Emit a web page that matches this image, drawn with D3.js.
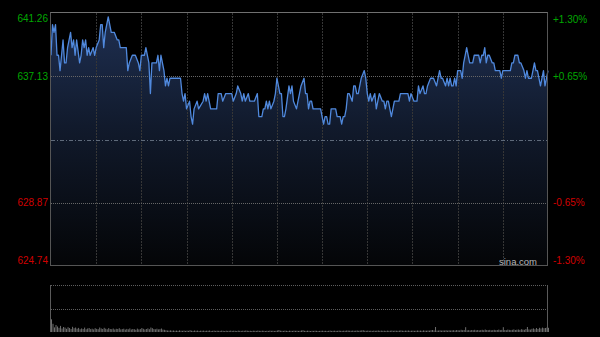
<!DOCTYPE html>
<html><head><meta charset="utf-8">
<script src="https://cdn.jsdelivr.net/npm/d3@7"></script>
<style>html,body{margin:0;padding:0;background:#000;overflow:hidden}</style>
</head><body>
<svg id="c" width="600" height="337"></svg>
<script>
// minute index within the trading day (0 = 09:30, 150 = 12:00/13:00, 330 = 16:00)
const minutes = [0,1,2,3,4,5,6,8,9,10,11,13,14,15,16,17,19,20,21,22,23,24,25,26,28,29,30,32,33,34,35,36,38,40,41,42,44,45,46,47,48,50,51,52,54,56,58,59,60,62,63,64,65,66,67,69,70,71,72,73,75,76,77,78,79,81,83,84,86,87,88,89,90,92,93,94,95,97,98,
101,102,103,104,106,110,111,113,114,116,120,121,123,124,126,127,128,129,131,132,135,137,138,140,141,142,143,144,145,146,148,149,150,152,153,154,155,156,158,159,160,161,163,164,165,166,168,169,170,171,172,173,174,179,180,181,182,183,184,185,186,189,190,192,193,194,195,196,197,198,200,201,202,203,204,205,206,208,209,210,211,212,213,215,216,217,218,220,221,222,223,224,225,226,227,228,231,232,
234,237,238,239,241,243,244,245,247,248,249,250,252,254,256,257,258,259,260,262,263,264,265,266,267,268,269,270,272,273,274,275,276,277,278,280,281,284,285,286,287,288,289,290,291,293,294,295,298,299,300,305,306,307,308,310,311,312,314,315,316,317,319,320,321,322,323,325,326,327,328,330];
const prices = [638.5,640.5,640,640.5,638.5,638.5,637.5,639.5,638,638,639,640,639,639.5,638.5,639.5,638,638.5,639.5,639,639.5,638.5,639,638.5,639,638.5,639,639.5,640.5,640.5,639,640,641,640,640,640,639.5,639.5,639,639,639,639,637.5,638,638.5,638.5,638,637.5,638.5,638.5,639,638.5,638,636,638,638,638,638.5,637.5,638.5,637.5,636.5,637,636.5,637,637,637,637,637,636,635.5,636,635,635.5,634.5,634,635,635.5,635,
635.5,636,635.5,636,635,635,636,636,635.5,636,636,635.5,636,636.5,636,635.5,636,635.5,636,635.5,635.5,636,634.5,634.5,635,635,635.5,635,635.5,635,635.5,636,637,636,636,634.5,634.5,635,636.5,636,636.5,635.5,635,635.5,636,636.5,637,636,636,635,635.5,635.5,635,635,634.5,634,634.5,634.5,634,634,635,635,634.5,634.5,634,634.5,634.5,635,636,636,635.5,636.5,636.5,636,636,636.5,637,637.5,637,636,635.5,636,635.5,636,635,635.5,636,635.5,635.5,635,635.5,635.5,635,634.5,635,635.5,635.5,636,
636,636,635.5,636,635.5,635.5,636.5,636,636.5,636,636,636.5,637,637,636.5,637,637.5,637,637,636.5,637,636.5,637,636.5,636.5,637,636.5,637.5,637.5,637,638,638.5,639,638.5,638,638,638.5,638.5,638,638.5,638.5,639,638,638.5,638.5,638,638,637.5,637.5,637,637.5,637.5,638,638,638.5,638.5,638,638,637.5,637,637.5,637,637,637.5,638,637.5,637.5,636.5,637,637.5,636.5,637.5];
// per-minute volume (arbitrary units)
const volumes = [127,82,46,70,55,42,61,35,50,44,32,48,40,30,52,38,45,33,41,28,
36,30,44,27,35,40,29,33,26,38,31,28,45,36,30,42,33,27,39,30,
28,35,25,32,30,38,26,29,33,24,31,27,36,25,30,28,22,34,26,29,
40,32,25,30,36,28,45,38,30,27,33,26,29,35,24,22,18,15,14,16,
13,15,12,14,11,16,13,12,15,11,14,12,18,13,11,15,12,14,10,13,
12,14,11,13,12,15,10,12,14,11,13,12,11,14,12,10,13,11,12,14,
11,13,12,10,14,12,11,13,12,15,13,11,12,10,13,12,11,14,12,11,
13,12,10,12,11,14,12,13,11,12,15,20,13,12,11,14,12,10,13,12,
11,14,12,13,11,12,15,18,12,11,13,12,10,12,11,13,12,10,11,12,
13,11,12,10,12,14,11,12,13,11,12,14,12,11,13,12,15,14,13,12,
14,12,13,15,12,14,16,18,13,12,14,12,13,11,14,12,13,15,12,14,
12,13,11,14,12,13,15,12,14,13,12,14,16,13,12,14,13,15,12,13,
14,12,13,15,13,14,12,16,14,13,15,14,18,20,16,50,14,15,17,14,
16,15,18,14,17,15,16,18,15,20,17,16,22,18,20,48,17,19,16,20,
18,22,17,20,16,19,22,18,25,20,18,21,17,19,22,18,20,24,19,21,
48,20,18,24,21,19,22,26,20,23,25,21,28,24,22,30,50,26,24,32,
36,28,40,30,42,35,44,38,40,45,42];
const priceLabels = ["641.26","637.13","628.87","624.74"];
const priceLabelValues = [641.26,637.13,628.87,624.74];
const pctLabels = ["+1.30%","+0.65%","-0.65%","-1.30%"];
const prevClose = 633.00;
const gridMinutes = [30,60,90,120,150,180,210,240,270,300];
const volMax = 470;

const svg = d3.select("#c");
const L = 51, R = 548, T = 13, B = 266;
const VT = 285, VB = 332;
const x = d3.scaleLinear().domain([0,330]).range([L,R]);
const y = d3.scaleLinear().domain([624.74,641.26]).range([B,T]);
const yv = d3.scaleLinear().domain([0,volMax]).range([VB,VT]);

svg.append("rect").attr("width",600).attr("height",337).attr("fill","#000");

const defs = svg.append("defs");
const g = defs.append("linearGradient").attr("id","fillg").attr("gradientUnits","userSpaceOnUse")
  .attr("x1",0).attr("x2",0).attr("y1",T).attr("y2",B);
g.append("stop").attr("offset","0%").attr("stop-color","#1f3053");
g.append("stop").attr("offset","45%").attr("stop-color","#111a2c");
g.append("stop").attr("offset","100%").attr("stop-color","#040507");

const pts = minutes.map((m,i)=>({m, p: prices[i]}));

// area
svg.append("path").datum(pts)
  .attr("d", d3.area().x(d=>x(d.m)).y0(B).y1(d=>y(d.p)))
  .attr("fill","url(#fillg)");

// vertical grid
svg.append("g").selectAll("line").data(gridMinutes).join("line")
  .attr("x1",d=>Math.round(x(d))+0.5).attr("x2",d=>Math.round(x(d))+0.5)
  .attr("y1",T).attr("y2",B)
  .attr("stroke","#363636").attr("stroke-dasharray","2,1");

// horizontal grid (inner)
svg.append("g").selectAll("line").data([637.13,628.87]).join("line")
  .attr("x1",L).attr("x2",R)
  .attr("y1",d=>Math.round(y(d))+0.5).attr("y2",d=>Math.round(y(d))+0.5)
  .attr("stroke","#666").attr("stroke-dasharray","1,1");
svg.append("line").attr("x1",L).attr("x2",R)
  .attr("y1",Math.round(y(prevClose))+0.5).attr("y2",Math.round(y(prevClose))+0.5)
  .attr("stroke","#5f6a7a").attr("stroke-dasharray","4,2,1,2");

// price line
svg.append("path").datum(pts)
  .attr("d", d3.line().x(d=>x(d.m)).y(d=>y(d.p)))
  .attr("fill","none").attr("stroke","#5089dd").attr("stroke-width",1.3)
  .attr("stroke-linejoin","round");

// frame
svg.append("rect").attr("x",L-0.5).attr("y",T-0.5).attr("width",R-L).attr("height",B-T)
  .attr("fill","none").attr("stroke","#555");
svg.append("line").attr("x1",L-0.5).attr("x2",R-0.5).attr("y1",T-0.5).attr("y2",T-0.5).attr("stroke","#707070");

// left labels
svg.append("g").selectAll("text").data(priceLabels).join("text")
  .attr("x",48).attr("text-anchor","end")
  .attr("y",(d,i)=>{const v=y(priceLabelValues[i]); return i===0? v+9 : (i===priceLabels.length-1? v-2.4 : v+3.6);})
  .attr("fill",(d,i)=>priceLabelValues[i]>prevClose?"#00a800":"#d00000")
  .attr("font-family","Liberation Sans, Arial, sans-serif").attr("font-size",10)
  .text(d=>d);
// right labels
svg.append("g").selectAll("text").data(pctLabels).join("text")
  .attr("x",553).attr("text-anchor","start")
  .attr("y",(d,i)=>{const v=y(priceLabelValues[i]); return i===0? v+9.5 : (i===pctLabels.length-1? v-2.4 : v+3.6);})
  .attr("fill",(d,i)=>priceLabelValues[i]>prevClose?"#00a800":"#d00000")
  .attr("font-family","Liberation Sans, Arial, sans-serif").attr("font-size",10)
  .text(d=>d);

svg.append("text").attr("x",499).attr("y",264.5)
  .attr("fill","#b8b8b8").attr("font-family","Liberation Sans, Arial, sans-serif")
  .attr("font-size",9.5).text("sina.com");

// volume panel
svg.append("g").selectAll("line").data([VT, (VT+VB)/2]).join("line")
  .attr("x1",L).attr("x2",R).attr("y1",d=>Math.round(d)+0.5).attr("y2",d=>Math.round(d)+0.5)
  .attr("stroke","#5e5e5e").attr("stroke-dasharray","1,1");
svg.append("g").selectAll("line").data(volumes).join("line")
  .attr("x1",(d,i)=>x(i)+0.5).attr("x2",(d,i)=>x(i)+0.5)
  .attr("y1",VB).attr("y2",d=>yv(d))
  .attr("stroke","#8a8a8a").attr("stroke-width",0.8);
svg.append("line").attr("x1",L-0.5).attr("x2",L-0.5).attr("y1",VT).attr("y2",VB).attr("stroke","#5a5a5a");
svg.append("line").attr("x1",R-0.5).attr("x2",R-0.5).attr("y1",VT).attr("y2",VB).attr("stroke","#5a5a5a");
</script>
</body></html>
